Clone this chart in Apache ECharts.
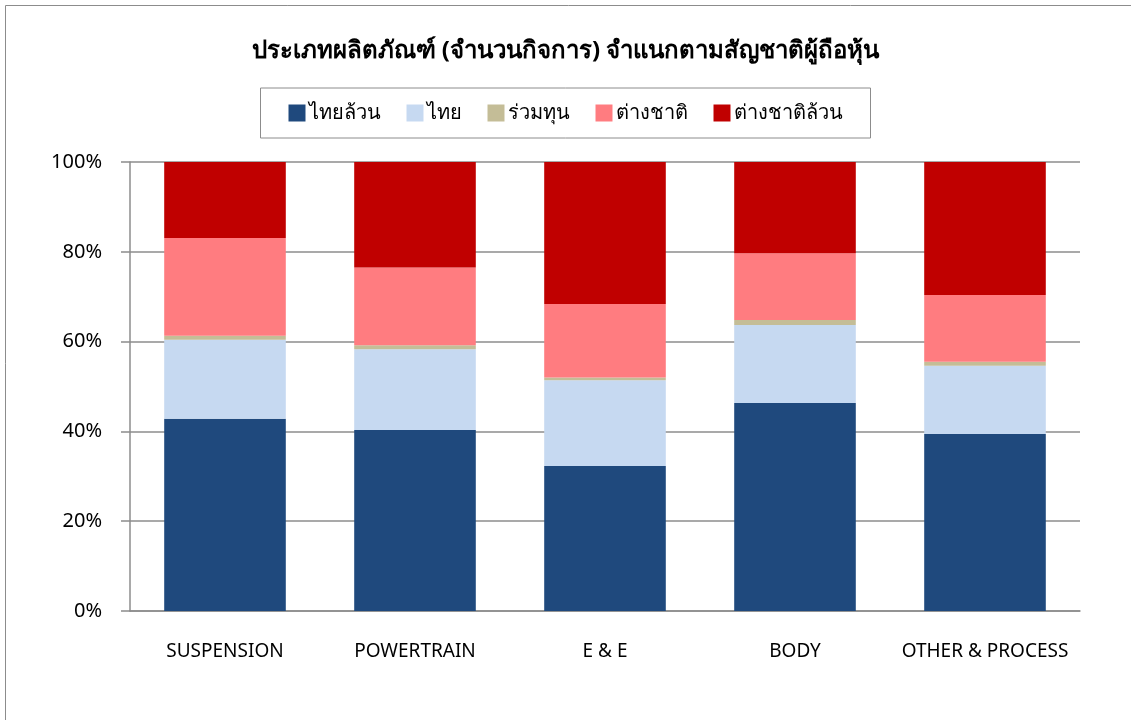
<!DOCTYPE html>
<html>
<head>
<meta charset="utf-8">
<script src="https://cdn.jsdelivr.net/npm/echarts@6/dist/echarts.min.js"></script>
<style>
  html, body { margin: 0; padding: 0; background: #fff; }
  #chart { width: 1131px; height: 720px; }
</style>
</head>
<body>
<div id="chart"></div>
<script>
// categories and shares (%)
const categories = ['SUSPENSION', 'POWERTRAIN', 'E & E', 'BODY', 'OTHER & PROCESS']
const seriesNames = ['ไทยล้วน', 'ไทย', 'ร่วมทุน', 'ต่างชาติ', 'ต่างชาติล้วน']
const thaiAll = [42.8, 40.3, 32.3, 46.3, 39.4]
const thai = [17.6, 18.0, 19.1, 17.4, 15.2]
const jointVenture = [0.9, 0.9, 0.6, 1.1, 0.9]
const foreign = [21.8, 17.3, 16.4, 14.9, 14.9]
const foreignAll = [16.9, 23.5, 31.6, 20.3, 29.6]
const yTicks = [0, 20, 40, 60, 80, 100]

const colors = ['#1F497D', '#C6D9F1', '#C4BD97', '#FF7C80', '#C00000']
const values = [thaiAll, thai, jointVenture, foreign, foreignAll]
const font = 'Tahoma, "Noto Sans", "DejaVu Sans", sans-serif'

const chart = echarts.init(document.getElementById('chart'))
chart.setOption({
  animation: false,
  textStyle: { fontFamily: font },
  graphic: [{
    type: 'rect',
    shape: { x: 5.5, y: 5.5, width: 1200, height: 800 },
    style: { fill: 'none', stroke: '#8c8c8c', lineWidth: 1 }
  }],
  title: {
    text: 'ประเภทผลิตภัณฑ์ (จำนวนกิจการ) จำแนกตามสัญชาติผู้ถือหุ้น',
    left: 'center',
    top: 34,
    textStyle: { fontSize: 24, fontWeight: 'bold', color: '#000', fontFamily: font }
  },
  legend: {
    data: seriesNames,
    left: 'center',
    top: 88,
    padding: [15, 28, 15, 28],
    itemGap: 26,
    itemWidth: 17,
    itemHeight: 17,
    borderColor: '#8c8c8c',
    borderWidth: 1,
    icon: 'rect',
    textStyle: { fontSize: 20, color: '#000', padding: [0, 0, 0, -2] }
  },
  grid: { left: 130, right: 51, top: 162, bottom: 109 },
  xAxis: {
    type: 'category',
    data: categories,
    axisTick: { show: false },
    axisLine: { lineStyle: { color: '#8c8c8c', width: 1.5 } },
    axisLabel: { fontSize: 19, color: '#000', margin: 31, interval: 0 }
  },
  yAxis: {
    type: 'value',
    min: yTicks[0],
    max: yTicks[yTicks.length - 1],
    interval: 20,
    axisLine: { show: true, lineStyle: { color: '#8c8c8c', width: 1.5 } },
    axisTick: { show: true, length: 9, lineStyle: { color: '#8c8c8c', width: 1.5 } },
    splitLine: { lineStyle: { color: '#8c8c8c', width: 1.5 } },
    axisLabel: { fontSize: 20, color: '#000', margin: 28, formatter: v => v + '%' }
  },
  series: seriesNames.map((name, i) => ({
    name,
    type: 'bar',
    stack: 'total',
    barWidth: '64%',
    data: values[i],
    itemStyle: { color: colors[i] }
  }))
})
</script>
</body>
</html>
